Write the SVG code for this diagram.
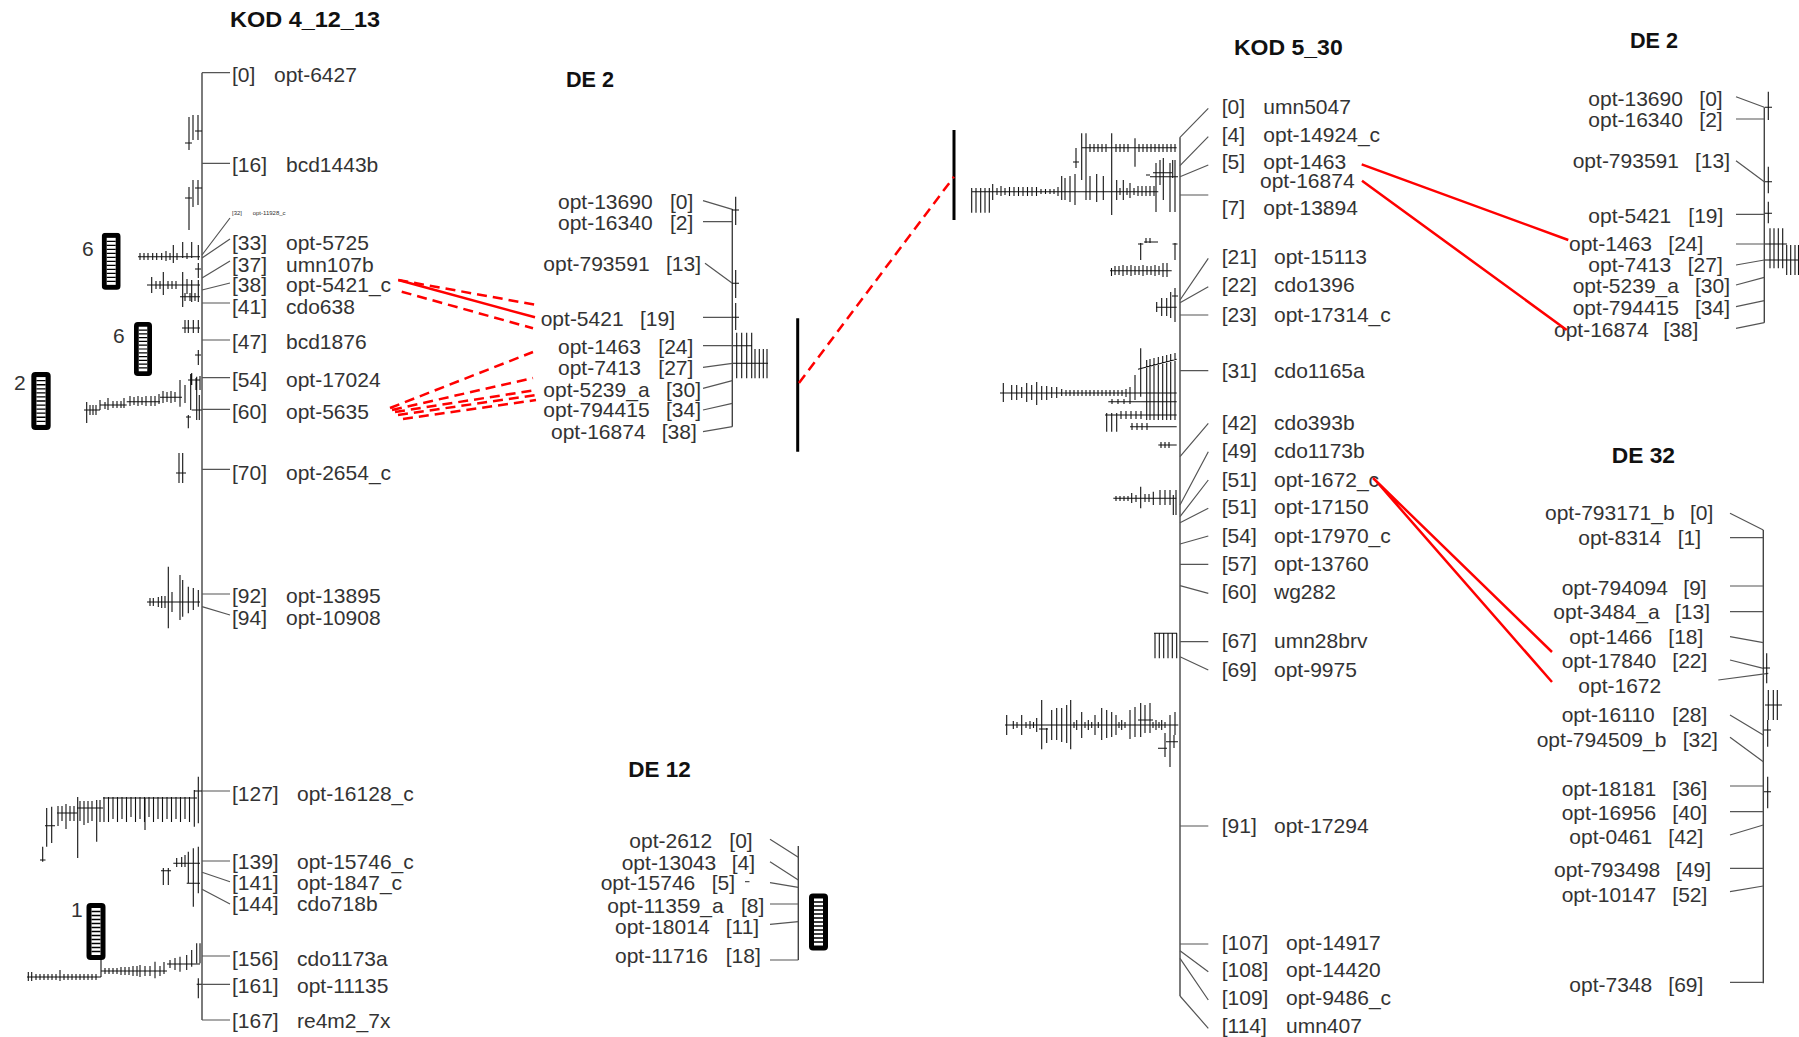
<svg xmlns="http://www.w3.org/2000/svg" width="1799" height="1037" viewBox="0 0 1799 1037">
<style>
text{font-family:"Liberation Sans",Arial,sans-serif;font-size:21px;fill:#333}
.t{font-weight:bold;font-size:22px;fill:#111}
.s{font-size:6px}
.ax{stroke:#444;stroke-width:1.4;fill:none}
.cn{stroke:#555;stroke-width:1.2;fill:none}
.q{stroke:#111;stroke-width:1.1;fill:none}
.rs{stroke:#f00;stroke-width:2.5;fill:none}
.rd{stroke:#f00;stroke-width:2.5;fill:none;stroke-dasharray:10 6}
.bk{stroke:#000;stroke-width:3;fill:none}
</style>
<defs>
<symbol id="bar" viewBox="0 0 19 57">
<rect x="0" y="0" width="19" height="57" rx="4" fill="#000"/>
<rect x="5" y="5" width="9" height="47" fill="#fff"/>
<path d="M5 8.5H14M5 12.5H14M5 16.5H14M5 20.5H14M5 24.5H14M5 28.5H14M5 32.5H14M5 36.5H14M5 40.5H14M5 44.5H14M5 48.5H14" stroke="#000" stroke-width="1.3"/>
</symbol>
</defs>
<rect width="1799" height="1037" fill="#fff"/>

<g id="kod4">
<text class="t" x="230" y="27" textLength="150" lengthAdjust="spacingAndGlyphs">KOD 4_12_13</text>
<path class="ax" d="M202 72.7V1020"/>
<path class="cn" d="M202 72.7H230M202 163.3H230M202 255L230 218M202 258L230 239M202 278L230 261M202 290L230 283M202 303H230M202 340H230M202 377.7H230M202 409.3H230M202 469.3H230M202 594H230M202 606.7L230 615M202 791H230M202 861H230M202 872.3L230 881.7M202 889.3L230 904M202 956H230M202 984.3H230M202 1020H230"/>
<text y="82"><tspan x="232">[0]</tspan><tspan x="274">opt-6427</tspan></text>
<text y="172"><tspan x="232">[16]</tspan><tspan x="286">bcd1443b</tspan></text>
<text class="s" y="215"><tspan x="232">[32]</tspan><tspan x="252.7">opt-11928_c</tspan></text>
<text y="250"><tspan x="232">[33]</tspan><tspan x="286">opt-5725</tspan></text>
<text y="272"><tspan x="232">[37]</tspan><tspan x="286">umn107b</tspan></text>
<text y="292"><tspan x="232">[38]</tspan><tspan x="286">opt-5421_c</tspan></text>
<text y="314"><tspan x="232">[41]</tspan><tspan x="286">cdo638</tspan></text>
<text y="349"><tspan x="232">[47]</tspan><tspan x="286">bcd1876</tspan></text>
<text y="386.7"><tspan x="232">[54]</tspan><tspan x="286">opt-17024</tspan></text>
<text y="419"><tspan x="232">[60]</tspan><tspan x="286">opt-5635</tspan></text>
<text y="480"><tspan x="232">[70]</tspan><tspan x="286">opt-2654_c</tspan></text>
<text y="603"><tspan x="232">[92]</tspan><tspan x="286">opt-13895</tspan></text>
<text y="625"><tspan x="232">[94]</tspan><tspan x="286">opt-10908</tspan></text>
<text y="800.7"><tspan x="232">[127]</tspan><tspan x="297">opt-16128_c</tspan></text>
<text y="869"><tspan x="232">[139]</tspan><tspan x="297">opt-15746_c</tspan></text>
<text y="890"><tspan x="232">[141]</tspan><tspan x="297">opt-1847_c</tspan></text>
<text y="911"><tspan x="232">[144]</tspan><tspan x="297">cdo718b</tspan></text>
<text y="965.7"><tspan x="232">[156]</tspan><tspan x="297">cdo1173a</tspan></text>
<text y="993"><tspan x="232">[161]</tspan><tspan x="297">opt-11135</tspan></text>
<text y="1028"><tspan x="232">[167]</tspan><tspan x="297">re4m2_7x</tspan></text>
<path class="q" d="M189 117V150M193 115V140M198 115V140M185 143H192M195 131H202
M189 187V230M193 180V207M198 180V205M185 198H192M195 188H202
M138 256.7H200M140 253v7M144 253v7M148 253v7M152.7 253v7M156.7 253v7M161.7 253v7M166 251v10M170 253v7M173.3 245V263M177 253v7M182.7 242V258M187 253v6M191.7 242V258M198.3 245V260M198.3 263V278M195 269H201
M147 285H200M151.7 277V293M156 281v8M160 281v8M163.3 272V295M168 281v8M172 281v8M176 281v8M182.7 272V307M187 279V294M191.7 280V302M198.3 280V302M180 296.7H200M185 293v8M190 293v8M195 293v8
M182 328H200M185 320V333M188.3 320V333M193.3 320V333M198.3 320V333
M198.3 350V365M195 355H201
M191.7 373V385M188 380H200M196 378V390M200 376V390
M86.7 402V423M84 410H100M100 405H126.7M126.7 401.7H160M160 397.3H182M90 405v10M93 405v10M96 405v10M100 400v10M105 402v7M108 398v12M113 401v7M117 401v7M121 401v7M124 398v10M130 396v10M134 397v8M138 396v10M142 397v8M146 396v10M151 396v10M155 396v10M159 394v10M163 391v12M167 392v10M171 391v12M175 392v10M180 380V406.7M185 385V403M190.7 374V410M196.7 376.7V420M199.3 395V420M191.7 410H201.7M188.3 415V428.3M186 417H191
M179 453V483M182.7 453V483M176 473H186
M147 602H200M150 598v8M153.3 598v8M158.3 597v10M161.7 596v12M165 596v12M168.3 566.7V628.3M172 592V612M180 575V620M182.7 580V616.7M188.3 586.7V613.3M193.3 588V610M198.3 590V606.7
M198.3 776.7V823.3M194.3 790V826.7M194 791H202M103 798H197M77 808H103M57 813H77M45 825.7H55
M104 797v25M108.5 797v25M113 797v22M117.5 797v25M122 797v22M126.5 797v25M131 797v20M135.5 797v25M140 797v22M144.5 797v25M149 797v20M153.5 797v25M158 797v22M162.5 797v25M167 797v22M171.5 797v25M176 797v22M180.5 797v25M185 797v22M189.5 797v25
M77.7 797V858M96.7 800V841.7M145 798V830M80 801v20M84 801v24M88 801v22M92 801v20M100 800v22M58 806v20M62 806v15M66 804v25M70 806v15M74 806v15M46.7 808V846.7M51.7 806.7V843M42.7 846.7V861.7M40 860H45.5
M188.3 851.7V883.3M193.3 848.3V906.7M198.3 846.7V893.3M173.3 863.3H200M176.7 858v9M181.7 857v10M185 855v12M163.3 868V885M168.3 868V885M161 870.7H171M186.7 883.3H200
M27 977H101M101 971H167M167 964H200M28.3 972v9M31.7 972v9M36 974v6M40 974v6M44 974v6M48 974v6M52 974v6M56 974v6M60 970v11M64 974v6M68 974v6M72 974v6M76 974v6M80 974v6M84 974v6M88 974v6M92 974v6M96 974v6M101 959V977M105 968v6M109 968v6M113 968v6M117 968v6M121 967v8M125 967v8M129 967v8M133 966v10M137 966v10M140 965V977M145 966v10M150 966v10M155 961.7V978.3M160 966v10M164 962v12M170 960v8M175 958V970M180 956.7V971.7M186.7 955V970M191.7 950V966.7M196.7 943.3V963.3M200 943.3V963.3
M198.3 978.3V998.3M196.7 984.3H201.7"/>
</g>

<g id="qtl-boxes">
<text x="82" y="256">6</text>
<use href="#bar" x="101.7" y="232.7" width="19" height="57.3"/>
<text x="113" y="343">6</text>
<use href="#bar" x="134" y="321" width="18" height="56"/>
<text x="14" y="390">2</text>
<use href="#bar" x="31" y="372" width="20" height="58"/>
<text x="71" y="917">1</text>
<use href="#bar" x="86" y="903" width="20" height="57"/>
<use href="#bar" x="809" y="893" width="19" height="58"/>
</g>

<g id="de2a">
<text class="t" x="566" y="86.7" textLength="48" lengthAdjust="spacingAndGlyphs">DE 2</text>
<path class="ax" d="M732.3 209V426.7"/>
<path class="cn" d="M703 200.7L732.3 209.3M703 221.7H732.3M705 263.3L732.3 283.3M703 317.3H732.3M703 345.7H732.3M703 367.3L732.3 363.3M703 388.3L732.3 380.7M703 410L732.3 403.3M703 431.7L732.3 426.7"/>
<text y="209"><tspan x="558">opt-13690</tspan><tspan x="670">[0]</tspan></text>
<text y="230"><tspan x="558">opt-16340</tspan><tspan x="670">[2]</tspan></text>
<text y="270.7"><tspan x="543.3">opt-793591</tspan><tspan x="666">[13]</tspan></text>
<text y="326"><tspan x="540.7">opt-5421</tspan><tspan x="640">[19]</tspan></text>
<text y="354"><tspan x="558">opt-1463</tspan><tspan x="658.3">[24]</tspan></text>
<text y="375"><tspan x="558">opt-7413</tspan><tspan x="658.3">[27]</tspan></text>
<text y="396.7"><tspan x="543.3">opt-5239_a</tspan><tspan x="666">[30]</tspan></text>
<text y="417.3"><tspan x="543.3">opt-794415</tspan><tspan x="666">[34]</tspan></text>
<text y="439.3"><tspan x="551">opt-16874</tspan><tspan x="661.7">[38]</tspan></text>
<path class="q" d="M735.7 196.7V225M732 210H739M735.7 270V298M732 283.3H739M735.7 303V330M732 317.3H739M736.7 332.7V378.3M741.7 332.7V378.3M746.7 332.7V378.3M751.7 332.7V378.3M755 349V378.3M759.3 349V378.3M763.3 349V378.3M767 349V378.3M733 345.7H752M733 363.3H768"/>
</g>

<g id="de12">
<text class="t" x="628.3" y="776.7" textLength="62.4" lengthAdjust="spacingAndGlyphs">DE 12</text>
<path class="ax" d="M798.3 846V960"/>
<path class="cn" d="M770 839.3L798.3 857.3M770 861.7L798.3 880M770 882.7L798.3 887.3M745 881.7H749.5M770 904H798.3M770 924.3L798.3 921.7M770 960H798.3"/>
<text y="848.3"><tspan x="629.3">opt-2612</tspan><tspan x="729.3">[0]</tspan></text>
<text y="870"><tspan x="621.7">opt-13043</tspan><tspan x="731.7">[4]</tspan></text>
<text y="890"><tspan x="600.7">opt-15746</tspan><tspan x="711.7">[5]</tspan></text>
<text y="912.7"><tspan x="607.3">opt-11359_a</tspan><tspan x="741">[8]</tspan></text>
<text y="934.3"><tspan x="615">opt-18014</tspan><tspan x="725.7">[11]</tspan></text>
<text y="963.3"><tspan x="615">opt-11716</tspan><tspan x="725.7">[18]</tspan></text>
</g>

<g id="kod5">
<text class="t" x="1234" y="55" textLength="108.7" lengthAdjust="spacingAndGlyphs">KOD 5_30</text>
<path class="ax" d="M1180 137.3V996"/>
<path class="cn" d="M1180 137.3L1208.3 108.3M1180 165.7L1208.3 136.7M1180 176.7L1208.3 165M1180 195H1208.3M1180 300L1208.3 258.3M1180 302.7L1208.3 286.7M1180 315H1208.3M1180 370.7H1208.3M1180 456.7L1208.3 423.3M1180 505L1208.3 451.7M1180 516.7L1208.3 480M1180 522.7L1208.3 508.3M1180 544L1208.3 536M1180 564.3H1208.3M1180 585.7L1208.3 593.3M1180 641.7H1208.3M1180 656.7L1208.3 670M1180 826H1208.3M1180 944H1208.3M1180 950.7L1208.3 971.7M1180 958.3L1208.3 1000M1180 996L1208.3 1028.3"/>
<text y="114"><tspan x="1221.7">[0]</tspan><tspan x="1263.3">umn5047</tspan></text>
<text y="141.7"><tspan x="1221.7">[4]</tspan><tspan x="1263.3">opt-14924_c</tspan></text>
<text y="169"><tspan x="1221.7">[5]</tspan><tspan x="1263.3">opt-1463</tspan></text>
<text x="1260" y="187.7">opt-16874</text>
<text y="215"><tspan x="1221.7">[7]</tspan><tspan x="1263.3">opt-13894</tspan></text>
<text y="264"><tspan x="1221.7">[21]</tspan><tspan x="1274">opt-15113</tspan></text>
<text y="292.3"><tspan x="1221.7">[22]</tspan><tspan x="1274">cdo1396</tspan></text>
<text y="321.7"><tspan x="1221.7">[23]</tspan><tspan x="1274">opt-17314_c</tspan></text>
<text y="378.3"><tspan x="1221.7">[31]</tspan><tspan x="1274">cdo1165a</tspan></text>
<text y="430"><tspan x="1221.7">[42]</tspan><tspan x="1274">cdo393b</tspan></text>
<text y="458.3"><tspan x="1221.7">[49]</tspan><tspan x="1274">cdo1173b</tspan></text>
<text y="486.7"><tspan x="1221.7">[51]</tspan><tspan x="1274">opt-1672_c</tspan></text>
<text y="514"><tspan x="1221.7">[51]</tspan><tspan x="1274">opt-17150</tspan></text>
<text y="542.7"><tspan x="1221.7">[54]</tspan><tspan x="1274">opt-17970_c</tspan></text>
<text y="570.7"><tspan x="1221.7">[57]</tspan><tspan x="1274">opt-13760</tspan></text>
<text y="599.3"><tspan x="1221.7">[60]</tspan><tspan x="1274">wg282</tspan></text>
<text y="648.3"><tspan x="1221.7">[67]</tspan><tspan x="1274">umn28brv</tspan></text>
<text y="676.7"><tspan x="1221.7">[69]</tspan><tspan x="1274">opt-9975</tspan></text>
<text y="833.3"><tspan x="1221.7">[91]</tspan><tspan x="1274">opt-17294</tspan></text>
<text y="950"><tspan x="1221.7">[107]</tspan><tspan x="1286">opt-14917</tspan></text>
<text y="976.7"><tspan x="1221.7">[108]</tspan><tspan x="1286">opt-14420</tspan></text>
<text y="1005"><tspan x="1221.7">[109]</tspan><tspan x="1286">opt-9486_c</tspan></text>
<text y="1032.7"><tspan x="1221.7">[114]</tspan><tspan x="1286">umn407</tspan></text>
<path class="q" d="M1081.7 147.7H1176.7M1090 144v8M1094 144v8M1098 144v8M1102 144v8M1106 144v8M1116 144v8M1120 144v8M1124 144v8M1128 144v8M1139 144v8M1143 144v8M1147 144v8M1151 144v8M1155 144v8M1159 144v8M1163 144v8M1167 144v8M1171 144v8M1175 144v8M1081.7 133.3V180M1086 133.3V200M1111.7 133.3V215M1135 138.3V166.7M1076 148V168M1073 162H1079
M971.7 191.7H1158.3M971.7 188V212.7M976 188V212.7M980.7 188V212.7M985 188V212.7M989.3 188V212.7M992.7 184V200M997 188v7M1001 186v10M1005 188v7M1009.5 187v9M1014 187v9M1018.5 187v9M1023 187v9M1027.5 187v9M1032 187v9M1036.5 187v9M1041 189v5M1045.5 189v5M1050 189v5M1054 189v5M1058 187v9M1061.7 176V200M1065 178V200M1070 176V202M1075 174V205M1090 176V200M1096.7 174V202M1103.3 176V200M1116.7 180V200M1123.3 180V200M1130 183V198M1120 188v7M1127 188v7M1134 188v7M1138 186v10M1142 186v10M1146 186v10M1150 186v10M1154 186v10
M1156 163V212M1160 160V185M1163.3 158V200M1170 163V212M1172.7 160V178M1175 160V212M1153 172.7H1172M1150 176.7H1178M1146 175H1150
M1110 270.7H1171.7M1111.5 268v8M1115 266v9M1119 266v9M1123 265v11M1127 266v9M1131 265v11M1135 266v9M1139 266v9M1143 265v11M1147 266v9M1151 266v9M1155 265v11M1159 266v9M1163 263v14M1167 263v14M1140.7 243V260M1138 244H1143.3M1146 238V243M1150 238V243M1144 242H1158M1175 243V260M1172.5 244H1177.5
M1156 307.3H1176.7M1156.7 302V312M1161.7 298V316M1166.7 298V316M1170.7 292V318M1175 288V322M1172 296H1178
M1140.7 348.3V396.7M1138 369.3L1176.7 359.3M1135 375V400M1146.7 360V420M1150 359V420M1154 358V420M1158.3 357V420M1162.7 356V420M1166.7 355V420M1170.7 354V420M1175 353V420
M1000 393H1176.7M1003.3 383V402M1011.7 385V400M1016.7 385V400M1021.7 387V398M1026.7 383V402M1031.7 385V400M1036.7 382V405M1041.7 386V400M1046.7 386V400M1051.7 387V398M1056.7 387V398M1061.7 389V396M1066 390V396M1070 390V396M1074 390V396M1078 390V396M1082 390V396M1086 390V396M1090 390V396M1094 390V396M1098 390V396M1102 390V396M1106 390V396M1110 390V396M1114 390V396M1118 390V396M1122 390V396M1126 389V397M1130 387V399
M1108.3 401.7H1176.7M1112 399v5M1118 399v5M1124 399v5M1130 399v5
M1105 415H1176.7M1106.7 413V431.7M1111.7 413V431.7M1116.7 413V431.7M1121 411v8M1126 411v8M1131 411v8M1136 411v8M1141 411v8
M1130 426.7H1176.7M1132 423v7M1137 423v7M1142 423v7M1147 423v7
M1158.3 445H1176.7M1161 442v6M1165 442v6M1169 442v6
M1113.3 498.3H1176.7M1116 496v5M1120 496v5M1124 496v5M1128 496v5M1131.7 493V503M1136 495v7M1140.7 486.7V508.3M1145 494v8M1149 494v8M1153.3 491.7V505M1160 490V505M1165 490V505M1170 490V505M1173.3 495V515M1176 490V515
M1155 633.3V658.3M1159.3 633.3V658.3M1163.7 633.3V658.3M1168 633.3V658.3M1172.3 633.3V658.3M1176.7 633.3V658.3M1154 633.3H1177
M1005 725H1178.3M1006.7 715V735M1013.3 721V729M1017 722v6M1021.7 715V735M1026 722v6M1030 721V729M1033.5 722v6M1036.7 718V732M1041.7 700V749.3M1046.7 728V743M1039 729H1048M1051.7 710V740M1056.7 708V740M1061.7 708V742M1066.7 705V743M1070.7 700V749.3M1074 722v6M1076.7 720V730M1081.7 712V738M1085 722v6M1088.3 720V730M1091.7 722v6M1095 715V735M1098.3 722v6M1101.7 708V740M1106.7 710V738M1111.7 712V737M1116 715V735M1119 722v6M1121.7 720V730M1125 722v6M1130 710V739M1135 707V737M1140.7 703V737M1145 705V733M1150 703V733M1138 720H1153M1153 722v6M1156 720V730M1159 722v6M1161.7 720V730M1165 722v6M1170 715V735M1175 712V735
M1165 733V757M1170 732V767M1174 735V748M1166 741.7H1178M1158 748.3H1167"/>
</g>

<g id="de2b">
<text class="t" x="1630" y="48.3" textLength="48" lengthAdjust="spacingAndGlyphs">DE 2</text>
<path class="ax" d="M1764.3 107.3V322.7"/>
<path class="cn" d="M1736 96.7L1764.3 107.3M1736 119H1764.3M1736 160.7L1764.3 181.7M1736 214.3H1764.3M1736 244H1764.3M1736 265L1764.3 260M1736 285L1764.3 277.3M1736 306.7L1764.3 300.7M1736 328.3L1764.3 322.7"/>
<text y="106"><tspan x="1588.3">opt-13690</tspan><tspan x="1699.3">[0]</tspan></text>
<text y="126.7"><tspan x="1588.3">opt-16340</tspan><tspan x="1699.3">[2]</tspan></text>
<text y="167.7"><tspan x="1572.7">opt-793591</tspan><tspan x="1695">[13]</tspan></text>
<text y="222.7"><tspan x="1588.3">opt-5421</tspan><tspan x="1688.3">[19]</tspan></text>
<text y="250.7"><tspan x="1569">opt-1463</tspan><tspan x="1668.3">[24]</tspan></text>
<text y="271.7"><tspan x="1588.3">opt-7413</tspan><tspan x="1687.7">[27]</tspan></text>
<text y="293.3"><tspan x="1572.7">opt-5239_a</tspan><tspan x="1695">[30]</tspan></text>
<text y="315"><tspan x="1572.7">opt-794415</tspan><tspan x="1695">[34]</tspan></text>
<text y="336.7"><tspan x="1554">opt-16874</tspan><tspan x="1663.3">[38]</tspan></text>
<path class="q" d="M1768.3 91.7V120M1765 107.3H1772M1768.3 166.7V193.3M1765 181.7H1772M1768.3 201.7V223.3M1765 213.3H1772M1770 228.3V268.3M1774 228.3V268.3M1778.3 228.3V268.3M1782.7 228.3V268.3M1786.7 245V275M1790.7 245V275M1795 245V275M1798.5 245V275M1765 244H1787M1765 260H1799"/>
</g>

<g id="de32">
<text class="t" x="1611.7" y="463.3" textLength="63.3" lengthAdjust="spacingAndGlyphs">DE 32</text>
<path class="ax" d="M1763.3 530V983.3"/>
<path class="cn" d="M1730 513.3L1763.3 530M1730 537.7H1763.3M1730 586H1763.3M1730 611.7H1763.3M1730 636.7L1763.3 642.7M1730 660L1763.3 668.3M1718.3 680L1768.3 673.3M1730 715L1763.3 735M1730 737.3L1763.3 761.7M1730 786H1763.3M1730 811.7H1763.3M1730 835L1763.3 825M1730 868.3H1763.3M1730 891.7L1763.3 886M1730 982.3H1763.3"/>
<text y="520"><tspan x="1545">opt-793171_b</tspan><tspan x="1690">[0]</tspan></text>
<text y="545"><tspan x="1578.3">opt-8314</tspan><tspan x="1677.7">[1]</tspan></text>
<text y="595"><tspan x="1561.7">opt-794094</tspan><tspan x="1683.3">[9]</tspan></text>
<text y="619"><tspan x="1553.3">opt-3484_a</tspan><tspan x="1675">[13]</tspan></text>
<text y="644.3"><tspan x="1569.3">opt-1466</tspan><tspan x="1668.3">[18]</tspan></text>
<text y="667.7"><tspan x="1561.7">opt-17840</tspan><tspan x="1672.3">[22]</tspan></text>
<text x="1578.3" y="693.3">opt-1672</text>
<text y="721.7"><tspan x="1561.7">opt-16110</tspan><tspan x="1672.3">[28]</tspan></text>
<text y="746.7"><tspan x="1536.7">opt-794509_b</tspan><tspan x="1682.7">[32]</tspan></text>
<text y="796"><tspan x="1561.7">opt-18181</tspan><tspan x="1672.3">[36]</tspan></text>
<text y="820"><tspan x="1561.7">opt-16956</tspan><tspan x="1672.3">[40]</tspan></text>
<text y="844"><tspan x="1569.3">opt-0461</tspan><tspan x="1668.3">[42]</tspan></text>
<text y="876.7"><tspan x="1554">opt-793498</tspan><tspan x="1676">[49]</tspan></text>
<text y="901.7"><tspan x="1561.7">opt-10147</tspan><tspan x="1672.3">[52]</tspan></text>
<text y="991.7"><tspan x="1569.3">opt-7348</tspan><tspan x="1668.3">[69]</tspan></text>
<path class="q" d="M1766.7 653.3V683.3M1763 668H1770M1768.3 690V720M1773.3 690V720M1777.3 690V720M1765 705H1782M1767.7 720V746.7M1764 730H1771M1767.7 776.7V808.3M1764 791.7H1771"/>
</g>

<g id="connectors">
<path class="bk" d="M797.7 318.3V451.7M954 130V220"/>
<path class="rs" d="M398.3 280L535 317.3"/>
<path class="rd" d="M398.3 280L536.7 305M401.7 291.7L533 328.3"/>
<path class="rd" d="M390 408L533 352M392 410L533 378M395 412L536 390M398 415L536 395"/>
<path class="rd" d="M403 419L536 400" stroke-width="3.5"/>
<path class="rd" d="M799 383L954 176.7"/>
<path class="rs" d="M1361.7 164.3L1568.3 240M1362 180.7L1566.7 330M1373 478L1552 652M1376.5 481.5L1552 682"/>
</g>
</svg>
